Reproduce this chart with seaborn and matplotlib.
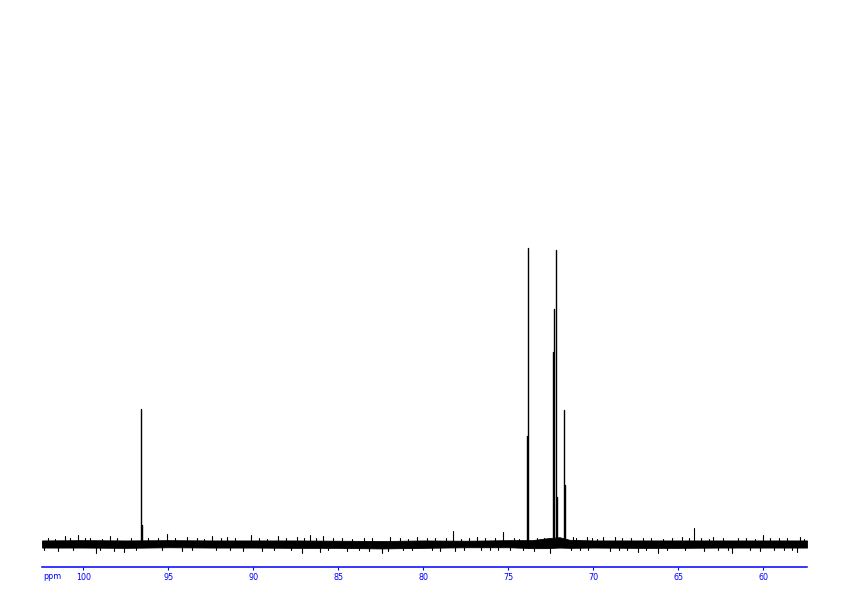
import matplotlib
matplotlib.use('Agg')
import matplotlib.pyplot as plt
import matplotlib.transforms as mtransforms
import pandas as pd
import seaborn as sns

# ---- data (relative intensity, tallest = 100) ----
peak_ppm = [96.62, 96.57, 73.90, 73.84, 72.36, 72.30, 72.18, 72.13, 71.75, 71.68]
peak_int = [45.5, 6.4, 36.5, 100.0, 64.9, 79.5, 99.4, 15.9, 45.3, 20.0]

minor_ppm = [95.07, 78.28, 75.31, 64.07]
minor_int = [3.4, 4.4, 4.1, 5.4]

# noise spikes (largest excursions of the baseline noise)
spike_ppm = [101.09, 100.34, 98.44, 93.93, 92.46, 91.58, 90.15, 88.54, 87.46,
             86.68, 85.89, 81.97, 80.40, 76.87, 71.19, 70.40, 69.42, 68.74,
             67.07, 64.81, 62.95, 60.01, 57.85,
             101.48, 99.28, 97.60, 94.22, 90.60, 87.17, 86.09, 82.46, 82.07,
             78.15, 74.13, 72.56, 69.03, 67.36, 66.18, 61.87, 58.05]
spike_int = [2.6, 2.9, 2.6, 2.2, 2.6, 2.2, 2.9, 2.6, 2.2,
             2.9, 2.6, 2.2, 2.2, 2.2, 2.2, 2.2, 2.4, 2.2,
             2.0, 2.2, 2.5, 2.9, 2.5,
             -2.2, -2.9, -2.7, -2.2, -2.2, -2.9, -2.7, -2.9, -2.5,
             -2.5, -2.0, -2.9, -2.2, -2.7, -2.9, -2.9, -2.7]

# smaller noise excursions
small_ppm = [102.1, 101.7, 100.8, 99.9, 99.6, 98.9, 98.0, 97.2, 96.2, 95.6,
             94.6, 93.3, 92.9, 91.9, 91.1, 89.7, 89.2, 88.1, 87.0, 86.3,
             85.3, 84.8, 84.2, 83.5, 83.0, 81.4, 80.9, 79.8, 79.3, 78.7,
             77.8, 77.3, 76.4, 75.8, 74.7, 74.4, 73.3, 72.9, 71.0, 70.1,
             69.8, 68.3, 67.8, 66.6, 65.9, 65.4, 64.4, 63.7, 63.2, 62.4,
             61.5, 61.0, 60.5, 59.6, 59.1, 58.6, 57.6,
             102.3, 100.6, 99.0, 98.2, 96.9, 95.4, 93.6, 92.2, 91.4, 89.5,
             88.8, 87.8, 85.6, 84.5, 83.8, 83.2, 81.2, 80.7, 79.5, 79.0,
             77.6, 76.6, 76.1, 75.6, 74.9, 73.5, 71.3, 70.8, 70.3, 68.5,
             68.0, 66.9, 65.7, 64.6, 63.5, 62.7, 62.1, 60.8, 60.2, 59.4,
             58.8, 58.3]
small_int = [2.0, 1.8, 2.1, 1.9, 2.1, 1.8, 2.0, 1.9, 2.1, 2.0,
             1.9, 2.1, 1.8, 2.0, 1.9, 2.1, 1.8, 2.0, 1.9, 2.1,
             1.9, 2.0, 1.8, 2.1, 1.9, 2.0, 1.8, 2.1, 1.9, 2.0,
             1.8, 2.1, 1.9, 2.0, 2.1, 1.8, 1.9, 2.0, 1.9, 2.1,
             1.8, 2.1, 1.9, 2.0, 1.8, 2.1, 1.9, 2.0, 1.8, 2.1,
             1.9, 2.0, 1.8, 2.1, 1.9, 2.0, 1.8,
             -2.0, -2.1, -1.9, -2.2, -2.0, -2.1, -1.9, -2.1, -2.0, -2.2,
             -1.9, -2.1, -2.0, -2.2, -2.1, -2.3, -2.0, -2.1, -1.9, -2.2,
             -2.0, -2.1, -1.9, -2.1, -2.0, -2.2, -2.0, -2.1, -1.9, -2.0,
             -2.1, -1.9, -2.1, -2.0, -2.2, -1.9, -2.1, -2.0, -2.2, -1.9,
             -2.1, -2.0]

band_ppm = [102.44, 100, 97.5, 95, 92.5, 90, 87.5, 85, 82.5, 80, 77.5, 75,
            74, 73.6, 72.8, 72.0, 71.4, 70, 67.5, 65, 62.5, 60, 57.44]
band_hi = [1.2, 1.3, 1.2, 1.3, 1.2, 1.2, 1.2, 1.1, 1.0, 1.2, 1.1, 1.3,
           1.3, 1.3, 1.9, 2.3, 1.4, 1.2, 1.2, 1.2, 1.2, 1.2, 1.2]
band_lo = [-1.2, -1.2, -1.3, -1.1, -1.2, -1.2, -1.3, -1.3, -1.5, -1.3, -1.1, -1.1,
           -1.3, -1.4, -1.4, -1.2, -1.3, -1.2, -1.3, -1.3, -1.2, -1.2, -1.2]

tick_vals = [100, 95, 90, 85, 80, 75, 70, 65, 60]
tick_labels = ['100', '95', '90', '85', '80', '75', '70', '65', '60']

# ---- build segment table ----
rows = []
uid = 0
for group, xs, ys in (('peak', peak_ppm, peak_int),
                      ('minor', minor_ppm, minor_int),
                      ('spike', spike_ppm, spike_int),
                      ('spike', small_ppm, small_int)):
    for x, y in zip(xs, ys):
        rows.append({'mark': uid, 'group': group, 'ppm': x, 'intensity': 0.0})
        rows.append({'mark': uid, 'group': group, 'ppm': x, 'intensity': y})
        uid += 1
df = pd.DataFrame(rows)

sns.set_theme(style='white')
plt.rcParams['font.family'] = ['DejaVu Sans']

fig = plt.figure(figsize=(8.42, 5.96), dpi=100)
ax = fig.add_axes([42 / 842, 29 / 596, 765 / 842, 567 / 596])

ax.fill_between(band_ppm, band_lo, band_hi, color='black', lw=0.6)

sns.lineplot(data=df[df.group == 'peak'], x='ppm', y='intensity', units='mark',
             estimator=None, sort=False, color='black', lw=1.0, ax=ax)
sns.lineplot(data=df[df.group != 'peak'], x='ppm', y='intensity', units='mark',
             estimator=None, sort=False, color='black', lw=0.8, ax=ax)

ax.set_xlim(102.44, 57.44)
ax.set_ylim(-7.78, 184.0)
ax.set_xlabel('')
ax.set_ylabel('')
ax.set_yticks([])
ax.set_xticks(tick_vals)
ax.set_xticklabels(tick_labels)
for s in ('top', 'left', 'right'):
    ax.spines[s].set_visible(False)
ax.spines['bottom'].set_color('#0000ff')
ax.spines['bottom'].set_linewidth(1.1)
ax.tick_params(axis='x', colors='#0000ff', direction='out', length=2.5,
               width=0.8, pad=1.5, labelsize=5.8, bottom=True)
ax.set_facecolor('white')
ax.grid(False)

trans = mtransforms.blended_transform_factory(ax.transAxes, fig.transFigure)
ax.text(0.001, 1 - 579 / 596, 'ppm', transform=trans, ha='left', va='baseline',
        color='#0000ff', fontsize=5.8)

fig.savefig('out.png', dpi=100)
